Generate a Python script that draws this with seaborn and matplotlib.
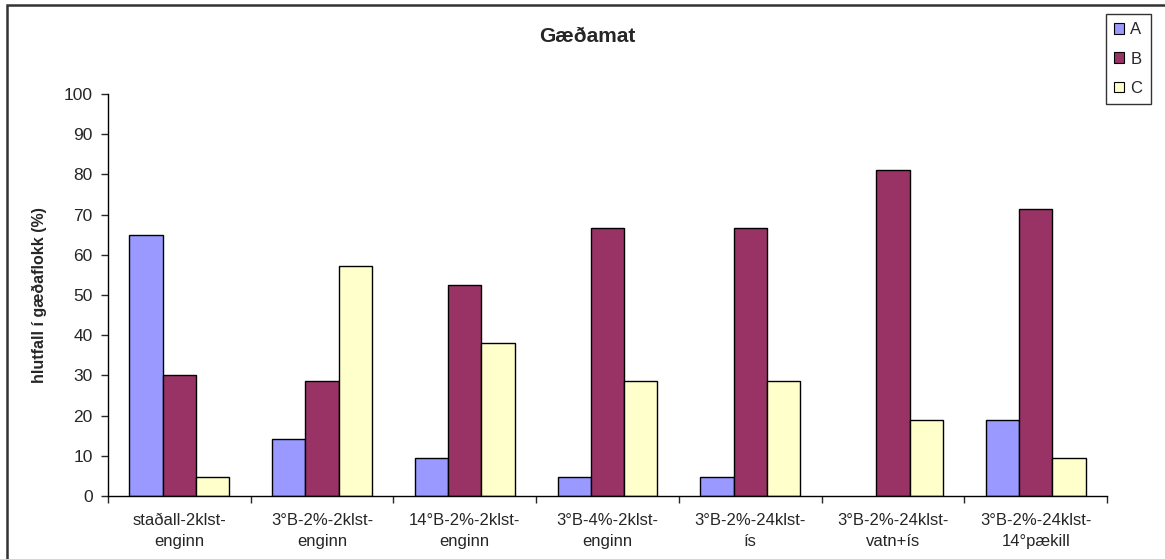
import numpy as np
import pandas as pd
import matplotlib.pyplot as plt
import seaborn as sns
from matplotlib.patches import Rectangle, Patch

# ================== DATA ==================
categories = ["staðall-2klst-\nenginn", "3°B-2%-2klst-\nenginn", "14°B-2%-2klst-\nenginn",
              "3°B-4%-2klst-\nenginn", "3°B-2%-24klst-\nís", "3°B-2%-24klst-\nvatn+ís",
              "3°B-2%-24klst-\n14°pækill"]
flokkar = ["A", "B", "C"]
vals_a = [65.0, 14.3, 9.5, 4.8, 4.8, 0.0, 19.0]
vals_b = [30.0, 28.6, 52.4, 66.7, 66.7, 81.0, 71.4]
vals_c = [4.8, 57.1, 38.1, 28.6, 28.6, 19.0, 9.5]
litir = ["#9999FF", "#993366", "#FFFFCC"]

df = pd.DataFrame({
    "flokkur": np.repeat(flokkar, len(categories)),
    "kat": categories * 3,
    "val": vals_a + vals_b + vals_c,
})

# ================== CONFIG ==================
sns.set_style("white")
plt.rcParams["font.family"] = ["Liberation Sans", "DejaVu Sans"]

fig = plt.figure(figsize=(11.65, 5.59), dpi=100)
ax = fig.add_axes([108 / 1165, 1 - 496 / 559, 999 / 1165, 402 / 559])

sns.barplot(data=df, x="kat", y="val", hue="flokkur", order=categories, hue_order=flokkar,
            palette=litir, width=0.7, gap=0, edgecolor="black", linewidth=1,
            saturation=1, legend=False, ax=ax)
# no outline on empty bars
for p in ax.patches:
    if p.get_height() == 0:
        p.set_linewidth(0)

# ================== AXES ==================
ax.set_ylim(0, 100)
ax.set_xlim(-0.5, len(categories) - 0.5)
ax.set_yticks(range(0, 101, 10))
ax.set_xlabel("")
ax.set_ylabel("hlutfall í gæðaflokk (%)", fontsize=11.5, fontweight="bold", labelpad=12)
ax.tick_params(axis="y", length=5, width=1, direction="out", left=True, labelsize=12.5, pad=6)
ax.tick_params(axis="x", which="major", length=0, labelsize=12, pad=12)
for t in ax.get_xticklabels():
    t.set_linespacing(1.5)
ax.set_xticks(np.arange(-0.5, len(categories), 1), minor=True)
ax.tick_params(axis="x", which="minor", length=5, width=1, direction="out", bottom=True)
for s in ["top", "right"]:
    ax.spines[s].set_visible(False)
for s in ["left", "bottom"]:
    ax.spines[s].set_color("black")
    ax.spines[s].set_linewidth(1)

fig.text(587 / 1165, 1 - 36 / 559, "Gæðamat", ha="center", va="center", fontsize=15, fontweight="bold")

handles = [Patch(facecolor=c, edgecolor="black", linewidth=0.8) for c in litir]
fig.legend(handles, flokkar, loc="upper left", bbox_to_anchor=(1106 / 1165, 1 - 14 / 559),
           frameon=True, fancybox=False, edgecolor="black", fontsize=12,
           handlelength=0.6, handleheight=0.6, handletextpad=0.35, labelspacing=0.85,
           borderpad=0.5, borderaxespad=0)

# outer frame (right and bottom edges fall outside the image)
fig.patches.append(Rectangle((7 / 1165, -0.05), 1.1, 1.05 - 5 / 559, transform=fig.transFigure,
                             fill=False, edgecolor="#333333", linewidth=1.8))

fig.savefig("out.png", dpi=100)
